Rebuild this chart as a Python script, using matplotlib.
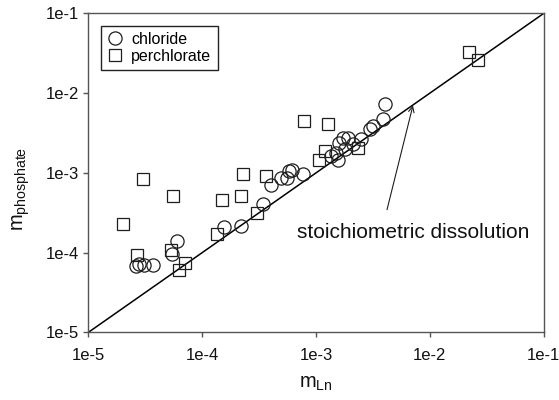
import matplotlib
matplotlib.use("Agg")
import matplotlib.pyplot as plt
from matplotlib.ticker import NullLocator

plt.rcParams['font.family'] = ['Liberation Sans', 'DejaVu Sans']
plt.rcParams['mathtext.fontset'] = 'custom'
plt.rcParams['mathtext.rm'] = 'Liberation Sans'
plt.rcParams['mathtext.it'] = 'Liberation Sans:italic'

# chloride media: (m_Ln, m_phosphate)
chloride_ln = [2.6e-5, 2.8e-5, 3.05e-5, 3.7e-5, 5.45e-5, 6.0e-5, 1.54e-4, 2.17e-4,
               3.4e-4, 4.0e-4, 4.9e-4, 5.5e-4, 6.1e-4, 7.6e-4, 5.8e-4,
               1.36e-3, 1.5e-3, 1.56e-3, 1.6e-3, 1.72e-3, 1.9e-3, 2.1e-3, 1.8e-3,
               2.5e-3, 2.95e-3, 3.16e-3, 3.87e-3, 4.0e-3]
chloride_p = [6.7e-5, 7.1e-5, 7.0e-5, 7.0e-5, 9.7e-5, 1.41e-4, 2.07e-4, 2.18e-4,
              4.1e-4, 7.0e-4, 8.5e-4, 8.7e-4, 1.1e-3, 9.6e-4, 1.05e-3,
              1.62e-3, 1.78e-3, 1.47e-3, 2.38e-3, 2.75e-3, 2.75e-3, 2.27e-3, 2.0e-3,
              2.62e-3, 3.5e-3, 3.85e-3, 4.68e-3, 7.2e-3]

# perchlorate media
perchlorate_ln = [2.0e-5, 2.68e-5, 3.0e-5, 5.5e-5, 5.33e-5, 7.0e-5, 6.2e-5,
                  1.34e-4, 1.5e-4, 2.2e-4, 2.27e-4, 3.0e-4, 3.65e-4,
                  7.8e-4, 1.27e-3, 1.07e-3, 1.19e-3, 2.33e-3, 2.2e-2, 2.67e-2]
perchlorate_p = [2.28e-4, 9.4e-5, 8.3e-4, 5.1e-4, 1.09e-4, 7.4e-5, 6.1e-5,
                 1.73e-4, 4.6e-4, 5.1e-4, 9.8e-4, 3.1e-4, 9.0e-4,
                 4.45e-3, 4.13e-3, 1.47e-3, 1.87e-3, 2.06e-3, 3.27e-2, 2.6e-2]

# 1:1 line
stoich = [1e-5, 1e-1]

ticks = [1e-5, 1e-4, 1e-3, 1e-2, 1e-1]
tick_labels = ["1e-5", "1e-4", "1e-3", "1e-2", "1e-1"]

fig = plt.figure(figsize=(5.59, 4.0), dpi=100)
ax = fig.add_axes([0.1583, 0.1693, 0.8143, 0.7972])

ax.plot(stoich, stoich, color="black", lw=1.1, zorder=1)
ax.plot(chloride_ln, chloride_p, ls="none", marker="o", ms=9.5, mfc="none",
        mec="#1e1e1e", mew=0.9, label="chloride", zorder=3)
ax.plot(perchlorate_ln, perchlorate_p, ls="none", marker="s", ms=8.5, mfc="none",
        mec="#1e1e1e", mew=0.9, label="perchlorate", zorder=3)

ax.set_xscale("log")
ax.set_yscale("log")
ax.set_xlim(1e-5, 1e-1)
ax.set_ylim(1e-5, 1e-1)
ax.set_xticks(ticks)
ax.set_xticklabels(tick_labels)
ax.set_yticks(ticks)
ax.set_yticklabels(tick_labels)
ax.xaxis.set_minor_locator(NullLocator())
ax.yaxis.set_minor_locator(NullLocator())

for s in ax.spines.values():
    s.set_color("#555555")
    s.set_linewidth(1.0)
ax.tick_params(axis="x", direction="out", length=3.6, width=1.0, color="#555555",
               labelsize=12, pad=7.5, labelcolor="#111111")
ax.tick_params(axis="y", direction="out", length=3.6, width=1.0, color="#555555",
               labelsize=12, pad=3.5, labelcolor="#111111")

ax.set_xlabel(r"$\mathrm{m}_{\mathrm{Ln}}$", fontsize=14.5, labelpad=8, color="#111111")
ax.set_ylabel(r"$\mathrm{m}_{\mathrm{phosphate}}$", fontsize=14.5, color="#111111")
ax.yaxis.set_label_coords(-0.125, 0.45)

# arrow pointing at the 1:1 line, label below it
ax.annotate("", xy=(7.1e-3, 7.0e-3), xytext=(4.2e-3, 3.45e-4),
            arrowprops=dict(arrowstyle="->", lw=0.8, color="#1e1e1e",
                            shrinkA=0, shrinkB=0))
ax.text(6.8e-4, 1.53e-4, "stoichiometric dissolution", fontsize=15,
        color="#111111", ha="left", va="baseline")

leg = ax.legend(loc="upper left", bbox_to_anchor=(0.027, 0.962), borderaxespad=0,
                fancybox=False, edgecolor="#222222", framealpha=1, fontsize=11.5,
                handlelength=1.0, handletextpad=0.5, labelspacing=0.1,
                borderpad=0.4)
leg.get_frame().set_linewidth(1.0)

fig.savefig("out.png", dpi=100)
